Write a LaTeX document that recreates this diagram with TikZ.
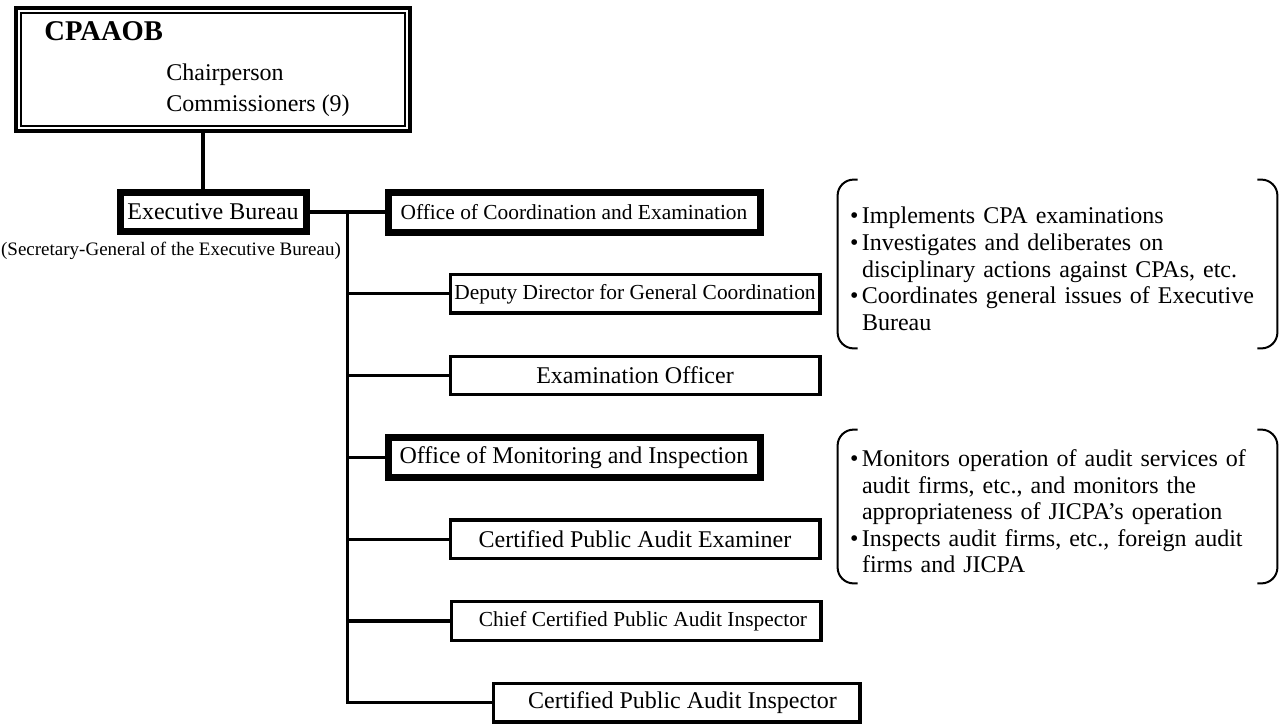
\documentclass[tikz,border=0pt]{standalone}
\usepackage{fontspec}
\setmainfont{Liberation Serif}

\tikzstyle{board} = [rectangle, 
minimum width=196.8pt, 
minimum height=61.3pt, 
draw=black, 
line width=2.2pt]
\tikzstyle{office} = [rectangle, 
minimum width=186pt, 
minimum height=20pt, 
inner sep=2pt, 
text centered, 
draw=black, 
line width=3.5pt, 
font=\fontsize{12}{14}\selectfont]
\tikzstyle{post} = [rectangle, 
minimum width=184.9pt, 
minimum height=19.2pt, 
inner sep=2pt, 
text centered, 
draw=black, 
line width=1.6pt, 
font=\fontsize{12}{14}\selectfont]
\tikzstyle{smalltext} = [font=\fontsize{10.7}{12}\selectfont]
\tikzstyle{plain} = [inner sep=0pt, font=\fontsize{12}{14}\selectfont]
\tikzstyle{note} = [inner sep=0pt, font=\fontsize{9.5}{11}\selectfont]
\tikzstyle{duties} = [rectangle, 
minimum width=219.5pt, 
text width=207.5pt, 
inner xsep=6pt, inner ysep=0pt, 
align=left, 
font=\fontsize{12}{13.3}\selectfont]
\tikzstyle{link} = [line width=1.6pt]
\tikzstyle{bracket} = [line width=1pt, rounded corners=8pt]

\newcommand{\bitem}{\par\noindent\hangindent=6pt\hangafter=1\makebox[6pt][l]{\textbullet}}

\begin{document}
\begin{tikzpicture}[x=1pt, y=-1pt, node distance=40.9pt]
\useasboundingbox (0,0) rectangle (642.5,362);

\node (top) [board] at (106.5,34.75) {};
\draw [line width=1pt] ([shift={(3.4pt,-3.4pt)}]top.north west) rectangle ([shift={(-3.4pt,3.4pt)}]top.south east);
\node (title) [plain, anchor=base west, font=\fontsize{14.3}{16}\selectfont\bfseries] at (22,20.3) {CPAAOB};
\node (chair) [plain, anchor=base west] at (83,40) {Chairperson};
\node (comm) [plain, anchor=base west] at (83,55.8) {Commissioners (9)};

\node (eb) [office, minimum width=93pt, minimum height=19.5pt, below of=top, yshift=-30.35pt] {Executive Bureau};
\node (sec) [note, below of=eb, xshift=-21pt, yshift=21.7pt] {(Secretary-General of the Executive Bureau)};

\node (oce) [office, smalltext, right of=eb, xshift=139.6pt] {Office of Coordination and Examination};
\node (dep) [post, smalltext, below of=oce, xshift=30.5pt] {Deputy Director for General Coordination};
\node (exam) [post, below of=dep] {Examination Officer};
\node (omi) [office, below of=exam, xshift=-30.5pt] {Office of Monitoring and Inspection};
\node (cpae) [post, below of=omi, xshift=30.5pt] {Certified Public Audit Examiner};
\node (chief) [post, smalltext, below of=cpae, xshift=0.5pt] {\hspace*{7pt}Chief Certified Public Audit Inspector};
\node (cpai) [post, below of=chief, xshift=20.25pt, minimum width=183.4pt] {\hspace*{6pt}Certified Public Audit Inspector};

\node (dutiesA) [duties, minimum height=84pt] at (528.75,132) {\bitem Implements CPA examinations
\bitem Investigates and deliberates on\newline disciplinary actions against CPAs, etc.
\bitem Coordinates general issues of Executive\newline Bureau\par};
\node (dutiesB) [duties, minimum height=76.5pt] at (528.75,253.25) {\bitem Monitors operation of audit services of\newline audit firms, etc., and monitors the\newline appropriateness of JICPA’s operation
\bitem Inspects audit firms, etc., foreign audit\newline firms and JICPA\par};

\coordinate (fork) at ([xshift=19pt]eb.east);

\draw [link] ([xshift=-5pt]top.south) -- ([xshift=-5pt]top.south |- eb.north);
\draw [link] (eb.east) -- (oce.west);
\draw [link] (fork) |- (cpai.west);
\draw [link] (fork |- dep.west) -- (dep.west);
\draw [link] (fork |- exam.west) -- (exam.west);
\draw [link] (fork |- omi.west) -- (omi.west);
\draw [link] (fork |- cpae.west) -- (cpae.west);
\draw [link] (fork |- chief.west) -- (chief.west);

\draw [bracket] ([xshift=10pt]dutiesA.north west) -| (dutiesA.south west) -- ([xshift=10pt]dutiesA.south west);
\draw [bracket] ([xshift=-10pt]dutiesA.north east) -| (dutiesA.south east) -- ([xshift=-10pt]dutiesA.south east);
\draw [bracket] ([xshift=10pt]dutiesB.north west) -| (dutiesB.south west) -- ([xshift=10pt]dutiesB.south west);
\draw [bracket] ([xshift=-10pt]dutiesB.north east) -| (dutiesB.south east) -- ([xshift=-10pt]dutiesB.south east);

\end{tikzpicture}
\end{document}
